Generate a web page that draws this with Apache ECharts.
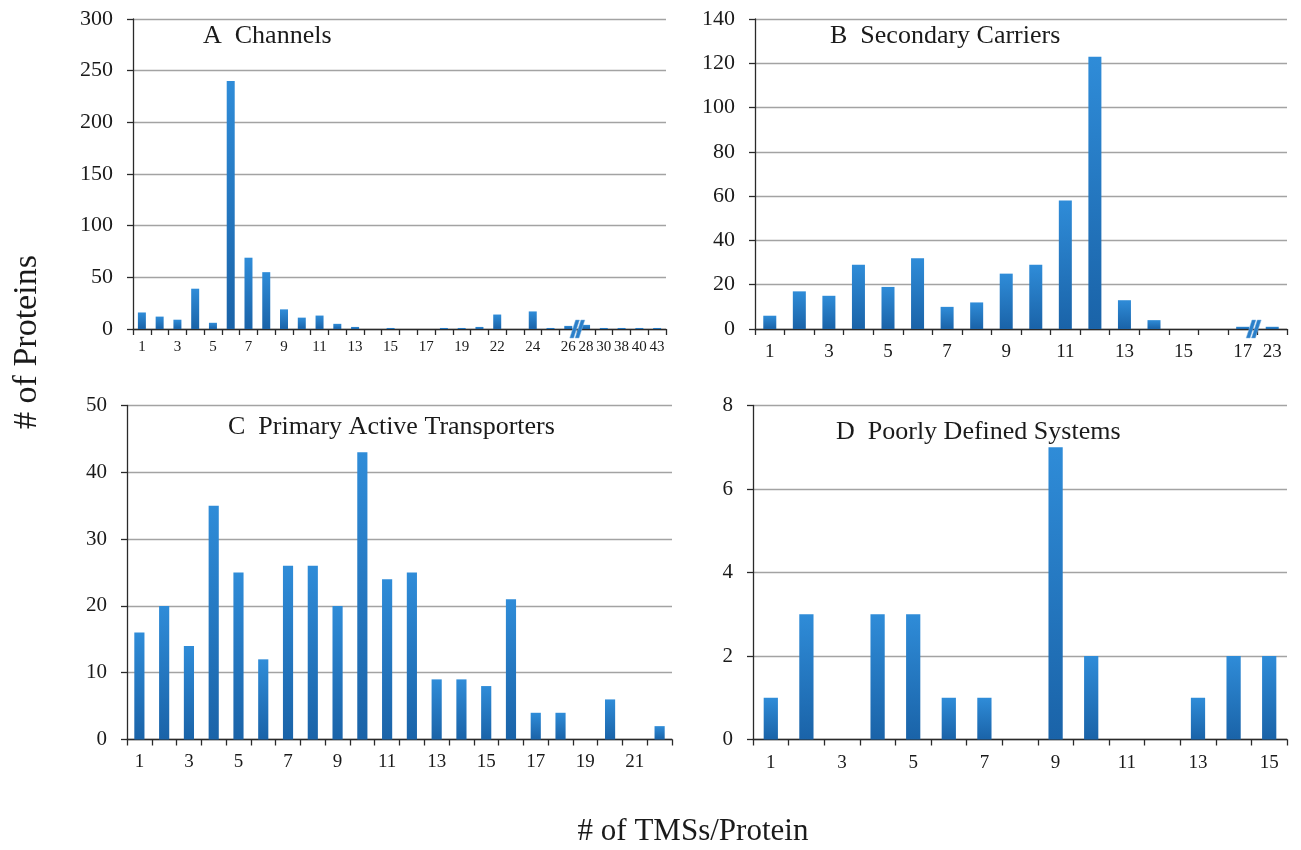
<!DOCTYPE html>
<html>
<head>
<meta charset="utf-8">
<script src="https://cdn.jsdelivr.net/npm/echarts@6/dist/echarts.min.js"></script>
<style>
html,body{margin:0;padding:0;background:#fff;}
#chart{width:1301px;height:850px;}
</style>
</head>
<body>
<div id="chart"></div>
<script>
// ---- Data ----
const catsA = ['1','2','3','4','5','6','7','8','9','10','11','12','13','14','15','16','17','18','19','20','22','23','24','25','26','28','30','38','40','43'];
const valsA = [16,12,9,39,6,240,69,55,19,11,13,5,2,0,1,0,0,1,1,2,14,0,17,1,3,4,1,1,1,1];

const catsB = ['1','2','3','4','5','6','7','8','9','10','11','12','13','14','15','16','17','23'];
const valsB = [6,17,15,29,19,32,10,12,25,29,58,123,13,4,0,0,1,1];

const catsC = ['1','2','3','4','5','6','7','8','9','10','11','12','13','14','15','16','17','18','19','20','21','22'];
const valsC = [16,20,14,35,25,12,26,26,20,43,24,25,9,9,8,21,4,4,0,6,0,2];

const catsD = ['1','2','3','4','5','6','7','8','9','10','11','12','13','14','15'];
const valsD = [1,3,0,3,3,1,1,0,7,2,0,0,1,2,2];

const titles = ['A  Channels','B  Secondary Carriers','C  Primary Active Transporters','D  Poorly Defined Systems'];
const yMax = [300,140,50,8];
const yStep = [50,20,10,2];
const yTitle = '# of Proteins';
const xTitle = '# of TMSs/Protein';

// ---- Styling ----
const FONT = '"Liberation Serif","Times New Roman",serif';
const barColor = {
  type:'linear', x:0, y:0, x2:0, y2:1,
  colorStops:[{offset:0,color:'#2f8cd8'},{offset:1,color:'#1a63a8'}]
};
const grids = [
  {left:133, top:19, width:533, height:310},
  {left:755, top:19, width:532, height:310},
  {left:127, top:405.5, width:545, height:334},
  {left:753, top:405.5, width:534, height:334}
];
const cats = [catsA,catsB,catsC,catsD];
const vals = [valsA,valsB,valsC,valsD];
const labelInterval = [
  (i)=> i < 24 ? i % 2 === 0 : true,
  (i)=> i % 2 === 0 || i === 17,
  (i)=> i % 2 === 0,
  (i)=> i % 2 === 0
];
const xLabelSize = [15,19,19,19];
const xLabelMargin = [11,14,13,14];
const yLabelSize = [22,22,21,21];
const barWidths = ['45%','44%','41%','40%'];

const breakPath = 'path://M0,18 L4,18 L10,0 L6,0 Z M5.5,18 L9.5,18 L15.5,0 L11.5,0 Z';
const breaks = [
  {cat:'26', offset:[9,0]},
  {cat:'17', offset:[11,0]},
  null, null
];

const xAxes = [], yAxes = [], series = [];
for (let k=0;k<4;k++){
  xAxes.push({
    type:'category', gridIndex:k, data:cats[k],
    axisLine:{lineStyle:{color:'#2a2a2a', width:1.3}},
    axisTick:{show:true, alignWithLabel:false, interval:0, length:6, lineStyle:{color:'#2a2a2a', width:1.3}},
    axisLabel:{interval:labelInterval[k], color:'#1a1a1a', fontFamily:FONT, fontSize:xLabelSize[k], margin:xLabelMargin[k]},
    splitLine:{show:false}
  });
  yAxes.push({
    type:'value', gridIndex:k, min:0, max:yMax[k], interval:yStep[k],
    axisLine:{show:true, lineStyle:{color:'#2a2a2a', width:1.3}},
    axisTick:{show:true, length:6, lineStyle:{color:'#2a2a2a', width:1.3}},
    axisLabel:{color:'#1a1a1a', fontFamily:FONT, fontSize:yLabelSize[k], margin:20},
    splitLine:{show:true, lineStyle:{color:'#a3a3a3', width:1.4}}
  });
  const s = {
    type:'bar', xAxisIndex:k, yAxisIndex:k, data:vals[k],
    barWidth:barWidths[k],
    itemStyle:{color:barColor},
    emphasis:{disabled:true},
    animation:false
  };
  if (breaks[k]) {
    s.markPoint = {
      symbol:breakPath, symbolSize:[15,18], symbolOffset:breaks[k].offset,
      itemStyle:{color:'#2a7fc9', borderColor:'#7fb2e0', borderWidth:0.5},
      label:{show:false},
      data:[{coord:[breaks[k].cat, 0]}],
      animation:false
    };
  }
  series.push(s);
}

const titlePos = [
  {left:203, top:23},
  {left:830, top:23},
  {left:228, top:414},
  {left:836, top:419}
];

const chart = echarts.init(document.getElementById('chart'), null, {renderer:'canvas'});
chart.setOption({
  animation:false,
  backgroundColor:'#ffffff',
  title: titles.map((t,i)=>({
    text:t, left:titlePos[i].left, top:titlePos[i].top, padding:0,
    textStyle:{fontFamily:FONT, fontSize:26, fontWeight:'normal', color:'#1a1a1a'}
  })),
  grid: grids,
  xAxis: xAxes,
  yAxis: yAxes,
  series: series,
  graphic:[
    {type:'text', x:27, y:342, rotation:Math.PI/2,
     style:{text:yTitle, font:'34px ' + FONT, fill:'#1a1a1a', align:'center', verticalAlign:'middle'}},
    {type:'text', x:693, y:832,
     style:{text:xTitle, font:'31px ' + FONT, fill:'#1a1a1a', align:'center', verticalAlign:'middle'}}
  ]
});
</script>
</body>
</html>
